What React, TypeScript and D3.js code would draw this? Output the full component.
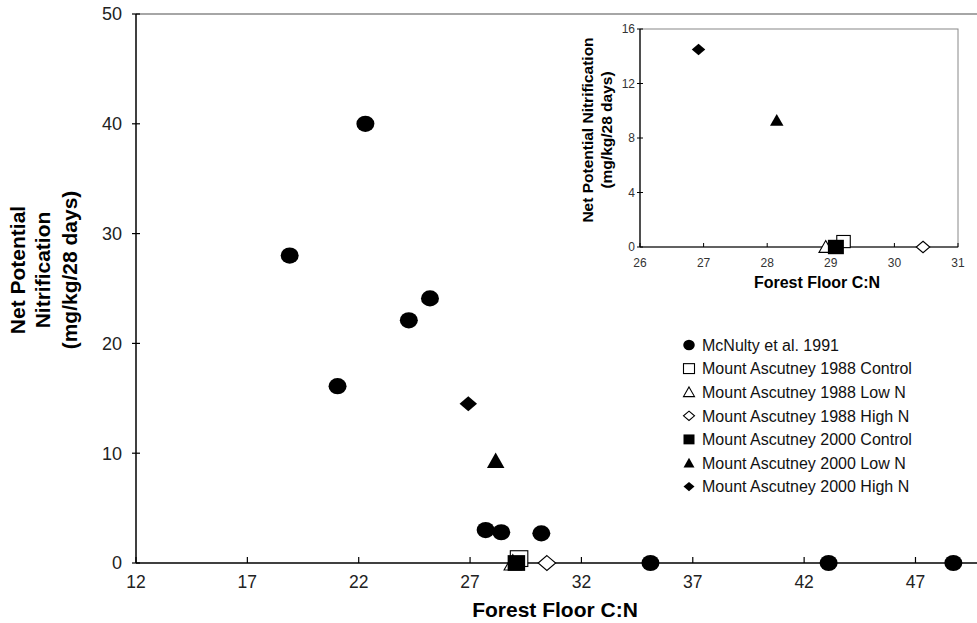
import React, { useEffect, useRef } from "react";
import * as d3 from "d3";

// McNulty et al. 1991 (main plot only)
const mcnultyX = [22.3, 18.9, 21.05, 24.25, 25.2, 27.7, 28.4, 30.2, 35.1, 43.1, 48.7];
const mcnultyY = [40.0, 28.0, 16.1, 22.1, 24.1, 3.0, 2.8, 2.7, 0, 0, 0];

// Mount Ascutney series: [x, y]
const asc1988Control = [[29.2, 0.4]];
const asc1988LowN = [[28.92, 0]];
const asc1988HighN = [[30.45, 0]];
const asc2000Control = [[29.08, 0]];
const asc2000LowN = [[28.15, 9.3]];
const asc2000HighN = [[26.92, 14.5]];

const mainXTicks = [12, 17, 22, 27, 32, 37, 42, 47];
const mainYTicks = [0, 10, 20, 30, 40, 50];
const insetXTicks = [26, 27, 28, 29, 30, 31];
const insetYTicks = [0, 4, 8, 12, 16];

const legendLabels = [
  "McNulty et al. 1991",
  "Mount Ascutney 1988 Control",
  "Mount Ascutney 1988 Low N",
  "Mount Ascutney 1988 High N",
  "Mount Ascutney 2000 Control",
  "Mount Ascutney 2000 Low N",
  "Mount Ascutney 2000 High N",
];
const legendKinds = ["circle", "oSquare", "oTriangle", "oDiamond", "square", "triangle", "diamond"];

const FONT = "'Liberation Sans', Arial, Helvetica, sans-serif";

// draws one marker kind centred at (cx, cy) with size s
function marker(g: any, kind: string, cx: number, cy: number, s: number) {
  const open = kind.startsWith("o");
  const fill = open ? "#fff" : "#000";
  const stroke = "#000";
  const sw = open ? 1.1 : 0;
  const h = s / 2;
  if (kind === "circle") {
    g.append("ellipse").attr("cx", cx).attr("cy", cy).attr("rx", h).attr("ry", h * 0.9).attr("fill", "#000");
  } else if (kind === "square" || kind === "oSquare") {
    g.append("rect").attr("x", cx - h).attr("y", cy - h * 0.9).attr("width", s).attr("height", s * 0.9)
      .attr("fill", fill).attr("stroke", stroke).attr("stroke-width", sw);
  } else if (kind === "triangle" || kind === "oTriangle") {
    g.append("path")
      .attr("d", `M${cx},${cy - h * 0.95}L${cx + h},${cy + h * 0.8}L${cx - h},${cy + h * 0.8}Z`)
      .attr("fill", fill).attr("stroke", stroke).attr("stroke-width", sw);
  } else {
    g.append("path")
      .attr("d", `M${cx},${cy - h * 0.85}L${cx + h},${cy}L${cx},${cy + h * 0.85}L${cx - h},${cy}Z`)
      .attr("fill", fill).attr("stroke", stroke).attr("stroke-width", sw);
  }
}

const App = () => {
  const svgRef = useRef<SVGSVGElement>(null);

  useEffect(() => {
    const svg = d3.select(svgRef.current);
    svg.selectAll("*").remove();

    // ---------- main chart ----------
    const x = d3.scaleLinear().domain([12, 50]).range([136, 982.3]);
    const y = d3.scaleLinear().domain([0, 50]).range([563, 14]);

    const main = svg.append("g");
    // top frame line (grey)
    main.append("line").attr("x1", 136).attr("x2", 977).attr("y1", y(50)).attr("y2", y(50))
      .attr("stroke", "#888").attr("stroke-width", 1.5);

    // y axis
    main.append("line").attr("x1", 136).attr("x2", 136).attr("y1", y(50)).attr("y2", y(0))
      .attr("stroke", "#000").attr("stroke-width", 1.5);
    mainYTicks.forEach((t) => {
      main.append("line").attr("x1", 132).attr("x2", 140).attr("y1", y(t)).attr("y2", y(t))
        .attr("stroke", "#000").attr("stroke-width", 1.2);
      main.append("text").attr("x", 122).attr("y", y(t)).attr("dy", "0.36em").attr("text-anchor", "end")
        .attr("font-family", FONT).attr("font-size", 18).attr("fill", "#222").text(t);
    });

    // x axis
    main.append("line").attr("x1", 136).attr("x2", 977).attr("y1", y(0)).attr("y2", y(0))
      .attr("stroke", "#000").attr("stroke-width", 1.5);
    mainXTicks.forEach((t) => {
      main.append("line").attr("x1", x(t)).attr("x2", x(t)).attr("y1", y(0)).attr("y2", y(0) - 6)
        .attr("stroke", "#000").attr("stroke-width", 1.2);
      main.append("text").attr("x", x(t)).attr("y", 588).attr("text-anchor", "middle")
        .attr("font-family", FONT).attr("font-size", 17.5).attr("fill", "#222").text(t);
    });

    main.append("text").attr("x", 555).attr("y", 617).attr("text-anchor", "middle")
      .attr("font-family", FONT).attr("font-size", 21).attr("font-weight", "bold").text("Forest Floor C:N");

    const yLab = ["Net Potential", "Nitrification", "(mg/kg/28 days)"];
    yLab.forEach((l, i) => {
      main.append("text").attr("transform", `translate(${[25, 50, 77][i]},270) rotate(-90)`)
        .attr("text-anchor", "middle").attr("font-family", FONT).attr("font-size", 21)
        .attr("font-weight", "bold").text(l);
    });

    // points
    const pts = main.append("g");
    mcnultyX.forEach((v, i) => marker(pts, "circle", x(v), y(mcnultyY[i]), 18));
    const series: [number[][], string][] = [
      [asc1988Control, "oSquare"],
      [asc1988LowN, "oTriangle"],
      [asc1988HighN, "oDiamond"],
      [asc2000Control, "square"],
      [asc2000LowN, "triangle"],
      [asc2000HighN, "diamond"],
    ];
    series.forEach(([d, k]) => d.forEach((p) => marker(pts, k, x(p[0]), y(p[1]), 17.5)));

    // legend
    legendLabels.forEach((l, i) => {
      const ly = 345 + i * 23.6;
      marker(main, legendKinds[i], 689, ly, legendKinds[i] === "circle" ? 11.5 : 11);
      main.append("text").attr("x", 702).attr("y", ly).attr("dy", "0.36em")
        .attr("font-family", FONT).attr("font-size", 16).attr("fill", "#111").text(l);
    });

    // ---------- inset ----------
    const ix = d3.scaleLinear().domain([26, 31]).range([640, 958]);
    const iy = d3.scaleLinear().domain([0, 16]).range([247, 29]);
    const inset = svg.append("g");
    inset.append("rect").attr("x", 640).attr("y", 29).attr("width", 318).attr("height", 218)
      .attr("fill", "none").attr("stroke", "#888").attr("stroke-width", 1);
    inset.append("line").attr("x1", 640).attr("x2", 958).attr("y1", iy(0)).attr("y2", iy(0))
      .attr("stroke", "#000").attr("stroke-width", 1.2);
    inset.append("line").attr("x1", 640).attr("x2", 640).attr("y1", 29).attr("y2", 247)
      .attr("stroke", "#000").attr("stroke-width", 1.2);
    insetYTicks.forEach((t) => {
      inset.append("line").attr("x1", 637).attr("x2", 643).attr("y1", iy(t)).attr("y2", iy(t))
        .attr("stroke", "#000");
      inset.append("text").attr("x", 635).attr("y", iy(t)).attr("dy", "0.35em").attr("text-anchor", "end")
        .attr("font-family", FONT).attr("font-size", 12).attr("fill", "#333").text(t);
    });
    insetXTicks.forEach((t) => {
      inset.append("line").attr("x1", ix(t)).attr("x2", ix(t)).attr("y1", iy(0)).attr("y2", iy(0) - 4)
        .attr("stroke", "#000");
      inset.append("text").attr("x", ix(t)).attr("y", 267).attr("text-anchor", "middle")
        .attr("font-family", FONT).attr("font-size", 12).attr("fill", "#333").text(t);
    });
    inset.append("text").attr("x", 817).attr("y", 288).attr("text-anchor", "middle")
      .attr("font-family", FONT).attr("font-size", 16).attr("font-weight", "bold").text("Forest Floor C:N");
    ["Net Potential Nitrification", "(mg/kg/28 days)"].forEach((l, i) => {
      inset.append("text").attr("transform", `translate(${[593, 612][i]},130) rotate(-90)`)
        .attr("text-anchor", "middle").attr("font-family", FONT).attr("font-size", 15.5)
        .attr("font-weight", "bold").text(l);
    });
    const ipts = inset.append("g");
    series.forEach(([d, k]) => d.forEach((p) => marker(ipts, k, ix(p[0]), iy(p[1]), k === "square" ? 16 : 13.5)));
  }, []);

  return (
    <svg
      ref={svgRef}
      width={977}
      height={623}
      style={{ position: "absolute", left: 0, top: 0, background: "#fff" }}
    />
  );
};

export default App;
